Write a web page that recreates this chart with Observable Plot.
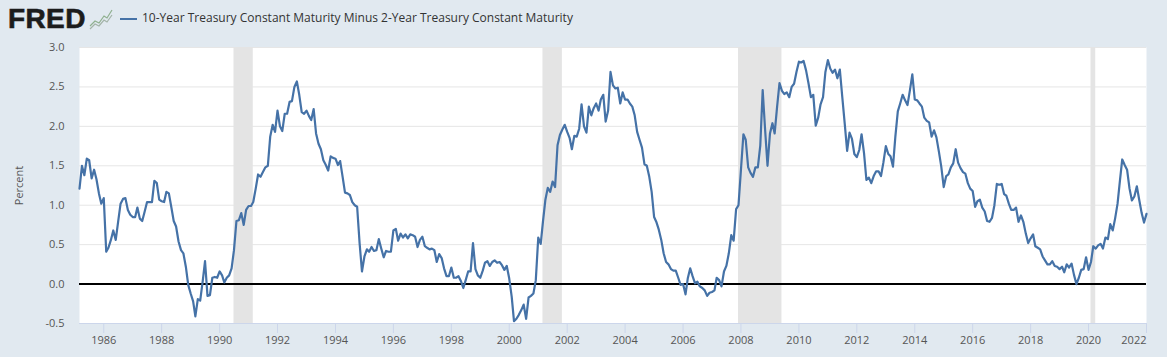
<!DOCTYPE html>
<html>
<head>
<meta charset="utf-8">
<script src="https://cdn.jsdelivr.net/npm/d3@7"></script>
<script src="https://cdn.jsdelivr.net/npm/@observablehq/plot@0.6"></script>
<style>
html,body{margin:0;padding:0;background:#e1e9f0;overflow:hidden}
#head{position:relative;height:40px;width:1167px}
#logo{position:absolute;left:8px;top:0px;font:bold 28px/38px "Liberation Sans",sans-serif;letter-spacing:.4px;color:#1c1c1c;-webkit-text-stroke:.6px #1c1c1c}
#icon{position:absolute;left:89px;top:8px}
#dash{position:absolute;left:120px;top:18px;width:17px;height:2px;background:#4572a7}
#title{position:absolute;left:142px;top:9px;font:12px/18px "Open Sans",sans-serif;color:#333;white-space:nowrap}
svg.plot{display:block}
</style>
</head>
<body>
<div id="head">
<div id="logo">FRED</div>
<svg id="icon" width="24" height="22" viewBox="0 0 24 22"><path d="M1 18 L6 13 L10 15 L15 8 L18 10 L23 2" fill="none" stroke="#8fb08f" stroke-width="1.2"/><path d="M1 21 L6 16 L10 18 L15 12 L18 14 L23 7" fill="none" stroke="#a3b3a8" stroke-width="1.2"/></svg>
<div id="dash"></div>
<div id="title">10-Year Treasury Constant Maturity Minus 2-Year Treasury Constant Maturity</div>
</div>
<div id="chart"></div>
<script>
const seriesStart = [1985, 2]; // March 1985 (month index 2), monthly observations
const spread = [
1.21,1.50,1.38,1.59,1.57,1.34,1.45,1.33,1.15,1.02,
1.09,0.41,0.46,0.56,0.68,0.56,0.79,1.02,1.08,1.09,0.94,0.88,
0.85,0.85,0.97,0.83,0.80,0.92,1.04,1.04,1.04,1.31,1.28,1.07,
1.05,1.04,1.17,1.15,0.98,0.80,0.73,0.54,0.43,0.39,0.22,-0.01,
-0.12,-0.22,-0.41,-0.19,-0.21,0.03,0.29,-0.15,-0.14,0.08,0.09,0.08,
0.16,0.11,0.02,0.08,0.11,0.20,0.43,0.80,0.81,0.90,0.75,0.94,
0.99,0.99,1.04,1.21,1.39,1.36,1.42,1.48,1.50,1.87,2.02,1.93,
2.20,2.00,1.94,2.16,2.16,2.31,2.32,2.50,2.57,2.40,2.18,2.16,
2.20,2.13,2.08,2.22,1.91,1.78,1.71,1.57,1.51,1.44,1.62,1.60,
1.59,1.51,1.56,1.36,1.16,1.15,1.13,1.04,1.00,0.98,0.52,0.16,
0.35,0.44,0.41,0.47,0.42,0.43,0.57,0.45,0.34,0.42,0.41,0.41,
0.68,0.70,0.55,0.64,0.59,0.63,0.58,0.63,0.62,0.60,0.47,0.56,
0.60,0.48,0.46,0.44,0.45,0.43,0.28,0.38,0.33,0.20,0.10,0.10,
0.21,0.08,0.08,0.10,0.04,-0.05,0.05,0.16,0.16,0.52,0.19,0.11,
0.08,0.17,0.27,0.29,0.23,0.28,0.30,0.27,0.28,0.24,0.18,0.23,
0.07,-0.16,-0.47,-0.44,-0.39,-0.33,-0.26,-0.44,-0.17,-0.15,-0.12,0.05,
0.59,0.51,0.79,1.07,1.22,1.17,1.30,1.23,1.76,1.89,1.96,2.02,
1.93,1.85,1.71,1.88,1.87,1.97,2.28,2.00,1.92,2.25,2.14,2.23,
2.29,2.20,2.34,2.40,2.06,2.20,2.69,2.52,2.48,2.49,2.29,2.43,
2.34,2.34,2.29,2.25,2.14,1.93,1.83,1.73,1.52,1.50,1.36,1.17,
0.85,0.78,0.69,0.56,0.39,0.28,0.25,0.19,0.17,0.17,0.08,-0.01,
0.00,-0.13,0.07,0.20,0.10,0.01,0.03,-0.03,-0.05,-0.08,-0.15,-0.11,
-0.10,-0.08,0.08,0.05,-0.03,0.16,0.23,0.39,0.62,0.55,0.95,1.00,
1.45,1.90,1.83,1.48,1.41,1.36,1.48,1.48,1.76,2.46,1.95,1.50,
1.91,2.04,1.91,2.25,2.55,2.45,2.41,2.43,2.37,2.50,2.54,2.69,
2.82,2.81,2.83,2.71,2.55,2.37,2.40,2.01,2.11,2.28,2.37,2.69,
2.84,2.73,2.68,2.72,2.61,2.72,2.38,2.04,1.69,1.92,1.84,1.65,
1.61,1.70,1.90,1.66,1.32,1.35,1.28,1.37,1.43,1.43,1.37,1.54,
1.75,1.65,1.62,1.49,1.87,2.19,2.29,2.40,2.33,2.27,2.46,2.66,
2.34,2.33,2.29,2.25,2.11,2.07,2.05,1.87,1.95,1.86,1.68,1.49,
1.23,1.37,1.39,1.48,1.53,1.71,1.54,1.47,1.42,1.40,1.28,1.21,
1.18,0.98,1.05,1.07,0.97,0.92,0.80,0.79,0.84,1.00,1.27,1.26,
1.27,1.14,1.12,1.02,0.94,0.94,0.97,0.79,0.87,0.79,0.64,0.52,
0.58,0.63,0.48,0.46,0.44,0.35,0.30,0.25,0.25,0.29,0.23,0.22,
0.19,0.22,0.15,0.25,0.21,0.26,0.12,0.00,0.08,0.18,0.19,0.34,
0.18,0.28,0.48,0.45,0.49,0.51,0.45,0.59,0.57,0.76,0.68,0.83,
1.02,1.32,1.58,1.51,1.45,1.21,1.06,1.11,1.24,1.07,0.90,0.78,
0.89
];
const recessionStart = ["1990-07-01","2001-03-01","2007-12-01","2020-02-01"];
const recessionEnd   = ["1991-03-01","2001-11-01","2009-06-01","2020-04-01"];
const yTicks = [-0.5,0,0.5,1,1.5,2,2.5,3];
const xTickYears = [1986,1988,1990,1992,1994,1996,1998,2000,2002,2004,2006,2008,2010,2012,2014,2016,2018,2020];
const lastTickYear = 2022;

const yr = y => new Date(Date.UTC(y,0,1));
const rows = spread.map((v,i)=>({date:new Date(Date.UTC(seriesStart[0],seriesStart[1]+i,1)),value:v}));
const recessions = recessionStart.map((s,i)=>({x1:new Date(s+"T00:00Z"),x2:new Date(recessionEnd[i]+"T00:00Z")}));
const tickColor="#ccd6eb", textColor="#555";

const plot = Plot.plot({
  width:1167,height:317,
  marginLeft:79,marginRight:21,marginTop:7,marginBottom:34,
  style:{background:"transparent",fontFamily:"'Open Sans',sans-serif",fontSize:"11px",color:textColor,overflow:"visible"},
  x:{type:"utc",domain:[rows[0].date,rows[rows.length-1].date]},
  y:{domain:[-0.5,3]},
  marks:[
    Plot.frame({fill:"white",stroke:"none"}),
    Plot.gridY(yTicks,{stroke:"#e6e6e6",strokeOpacity:1}),
    Plot.rectY(recessions,{x1:"x1",x2:"x2",y1:-0.5,y2:3,fill:"#e4e4e4"}),
    Plot.ruleY([-0.5],{stroke:tickColor}),
    Plot.ruleY([0],{stroke:"black",strokeWidth:2}),
    Plot.line(rows,{x:"date",y:"value",stroke:"#4572a7",strokeWidth:2.2,strokeLinejoin:"round"}),
    Plot.axisX(xTickYears.map(yr),{tickSize:10,tickPadding:3,stroke:tickColor,fill:textColor,tickFormat:d=>String(d.getUTCFullYear()),label:null}),
    Plot.axisX([yr(lastTickYear)],{tickSize:10,tickPadding:3,stroke:tickColor,fill:textColor,textAnchor:"end",tickFormat:d=>String(d.getUTCFullYear()),label:null}),
    Plot.axisY(yTicks,{tickSize:0,tickPadding:15,fill:textColor,tickFormat:d=>d.toFixed(1),label:"Percent",labelAnchor:"center",labelArrow:"none",labelOffset:64})
  ]
});
document.getElementById("chart").appendChild(plot);
</script>
</body>
</html>
